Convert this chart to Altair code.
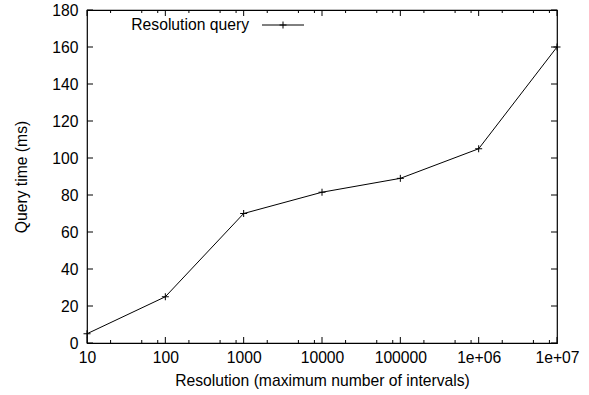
import altair as alt
import pandas as pd

# Data
resolution = [10, 100, 1000, 10000, 100000, 1000000, 10000000]
query_ms = [5, 25, 70, 81.5, 89, 105, 160]
x_tick_values = [10, 100, 1000, 10000, 100000, 1000000, 10000000]
x_tick_labels = ["10", "100", "1000", "10000", "100000", "1e+06", "1e+07"]
x_minor_multipliers = [2, 5, 8]
y_tick_values = [0, 20, 40, 60, 80, 100, 120, 140, 160, 180]
series_name = "Resolution query"

W, H = 470, 333
FONT = "Liberation Sans"
FS = 15.7

df = pd.DataFrame({"res": resolution, "ms": query_ms})
xmaj = pd.DataFrame({"v": x_tick_values})
xmin = pd.DataFrame({"v": [d * m for d in x_tick_values[:-1] for m in x_minor_multipliers]})
ymaj = pd.DataFrame({"v": y_tick_values})

xscale = alt.Scale(type="log", domain=[10, 10000000], nice=False)
yscale = alt.Scale(domain=[0, 180], nice=False, zero=False)

label_expr = " : ".join(
    [f"datum.value == {v} ? '{l}'" for v, l in zip(x_tick_values, x_tick_labels)]
) + " : ''"

x_axis = alt.Axis(
    values=x_tick_values, labelExpr=label_expr, grid=False, ticks=False, domain=False,
    labelFont=FONT, labelFontSize=FS, labelColor="black", labelPadding=7,
    labelOverlap=False, labelFlush=False,
    title="Resolution (maximum number of intervals)", titleFont=FONT, titleFontSize=FS,
    titleFontWeight="normal", titleColor="black", titlePadding=9,
)
y_axis = alt.Axis(
    values=y_tick_values, grid=False, ticks=False, domain=False,
    labelFont=FONT, labelFontSize=FS, labelColor="black", labelPadding=9,
    labelOverlap=False, labelFlush=False,
    title="Query time (ms)", titleFont=FONT, titleFontSize=FS,
    titleFontWeight="normal", titleColor="black", titlePadding=22,
)

line = alt.Chart(df).mark_line(color="black", strokeWidth=1).encode(
    x=alt.X("res:Q", scale=xscale, axis=x_axis),
    y=alt.Y("ms:Q", scale=yscale, axis=y_axis),
)
plus = "M-1,0L1,0M0,-1L0,1"
pts = alt.Chart(df).mark_point(shape=plus, size=49, color="black", filled=False, strokeWidth=1, opacity=1).encode(
    x=alt.X("res:Q", scale=xscale, axis=x_axis), y=alt.Y("ms:Q", scale=yscale, axis=y_axis)
)

def xt(data, y0, y1):
    return alt.Chart(data).mark_rule(color="black", strokeWidth=1).encode(
        x=alt.X("v:Q", scale=xscale, axis=x_axis), y=alt.value(y0), y2=alt.value(y1)
    )

def yt(x0, x1):
    return alt.Chart(ymaj).mark_rule(color="black", strokeWidth=1).encode(
        y=alt.Y("v:Q", scale=yscale, axis=y_axis), x=alt.value(x0), x2=alt.value(x1)
    )

ticks = [
    xt(xmaj, H, H - 6), xt(xmaj, 0, 6),
    xt(xmin, H, H - 3), xt(xmin, 0, 3),
    yt(0, 6), yt(W, W - 6),
]

leg = pd.DataFrame({"name": [series_name]})
leg_text = alt.Chart(leg).mark_text(align="right", baseline="middle", font=FONT, fontSize=FS, color="black").encode(
    text="name:N", x=alt.value(162), y=alt.value(15)
)
leg_line = alt.Chart(leg).mark_rule(color="black", strokeWidth=1).encode(
    x=alt.value(175), x2=alt.value(217), y=alt.value(15)
)
leg_pt = alt.Chart(leg).mark_point(shape=plus, size=49, color="black", filled=False, strokeWidth=1, opacity=1).encode(
    x=alt.value(196), y=alt.value(15)
)

chart = alt.layer(line, pts, *ticks, leg_text, leg_line, leg_pt).properties(
    width=W, height=H,
    autosize=alt.AutoSizeParams(type="none"),
    padding={"left": 87, "top": 10, "right": 32, "bottom": 52},
    background="white",
).configure_view(stroke="black", strokeWidth=1.2).configure_axis(labelOverlap=False)

chart.save("out.html", embed_options={"renderer": "svg", "actions": False})
